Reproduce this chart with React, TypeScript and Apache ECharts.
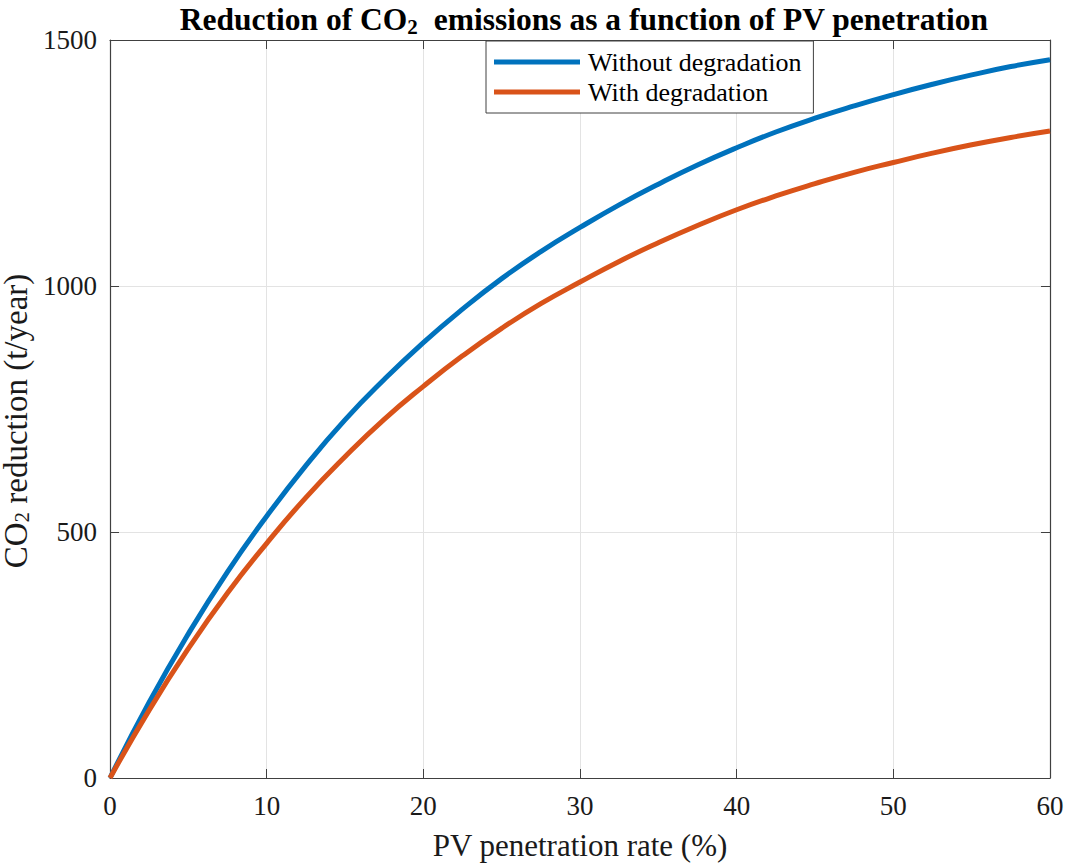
import React, { useEffect, useRef } from "react";
import * as echarts from "echarts";

const penetration = [0, 2.5, 5, 7.5, 10, 12.5, 15, 17.5, 20, 22.5, 25, 27.5, 30, 32.5, 35, 37.5, 40, 42.5, 45, 47.5, 50, 52.5, 55, 57.5, 60];
const withoutDegradation = [0, 154, 293, 419, 532, 635, 728, 810, 885, 953, 1015, 1070, 1119, 1165, 1207, 1246, 1281, 1313, 1341, 1366, 1389, 1410, 1429, 1446, 1460];
const withDegradation = [0, 138, 263, 376, 477, 570, 653, 729, 796, 858, 914, 964, 1008, 1050, 1088, 1123, 1155, 1183, 1208, 1231, 1251, 1270, 1287, 1302, 1315];
const xTicks = [0, 10, 20, 30, 40, 50, 60];
const yTicks = [0, 500, 1000, 1500];
const seriesNames = ["Without degradation", "With degradation"];
const colors = ["#0072BD", "#D95319"];

const FONT = "'Liberation Serif', 'Times New Roman', serif";
const AXIS_COLOR = "#404040";
const TEXT_COLOR = "#1a1a1a";

export default function App() {
  const ref = useRef<HTMLDivElement>(null);
  useEffect(() => {
    if (!ref.current) return;
    const chart = echarts.init(ref.current, undefined, { renderer: "svg" });
    const pairs = (ys: number[]) => penetration.map((x, i) => [x, ys[i]]);
    chart.setOption({
      animation: false,
      backgroundColor: "#ffffff",
      title: {
        text: "{b|Reduction of CO}{s|2}{b|  emissions as a function of PV penetration}",
        left: 579,
        top: -3,
        textAlign: "center",
        textStyle: {
          rich: {
            b: { fontFamily: FONT, fontSize: 31.5, fontWeight: "bold", color: "#000" },
            s: { fontFamily: FONT, fontSize: 21, fontWeight: "bold", color: "#000", padding: [14, 0, 0, 0] },
          },
        },
      },
      legend: {
        data: seriesNames,
        orient: "vertical",
        left: 486,
        top: 41,
        icon: "rect",
        itemWidth: 86,
        itemHeight: 5,
        itemGap: 0,
        padding: [6, 12, 6, 8],
        backgroundColor: "#ffffff",
        borderColor: AXIS_COLOR,
        borderWidth: 1,
        textStyle: { fontFamily: FONT, fontSize: 26, color: "#000", lineHeight: 30, padding: [0, 0, 0, 3] },
      },
      grid: { left: 110, right: 17, top: 40, bottom: 90, containLabel: false, outerBoundsMode: "none" },
      xAxis: [
        {
          type: "value",
          min: 0,
          max: 60,
          interval: 10,
          name: "PV penetration rate (%)",
          nameLocation: "middle",
          nameGap: 52,
          nameTextStyle: { fontFamily: FONT, fontSize: 31, color: TEXT_COLOR },
          axisLine: { show: true, lineStyle: { color: AXIS_COLOR, width: 1.2 } },
          axisTick: { show: true, inside: true, length: 9, lineStyle: { color: AXIS_COLOR } },
          axisLabel: {
            fontFamily: FONT,
            fontSize: 27,
            color: TEXT_COLOR,
            margin: 14,
            formatter: (v: number) => (xTicks.includes(v) ? String(v) : ""),
          },
          splitLine: { show: true, lineStyle: { color: "#e3e3e3", width: 1 } },
        },
        {
          type: "value",
          position: "top",
          min: 0,
          max: 60,
          interval: 10,
          axisLine: { show: true, onZero: false, lineStyle: { color: AXIS_COLOR, width: 1.2 } },
          axisTick: { show: true, inside: true, length: 9, lineStyle: { color: AXIS_COLOR } },
          axisLabel: { show: false },
          splitLine: { show: false },
        },
      ],
      yAxis: [
        {
          type: "value",
          min: 0,
          max: 1500,
          interval: 500,
          name: "{a|CO}{s|2}{a| reduction (t/year)}",
          nameLocation: "middle",
          nameGap: 73,
          nameRotate: 90,
          nameTextStyle: {
            padding: [0, 24, 0, 0],
            rich: {
              a: { fontFamily: FONT, fontSize: 33, lineHeight: 32, color: TEXT_COLOR },
              s: { fontFamily: FONT, fontSize: 21, lineHeight: 20, color: TEXT_COLOR, padding: [12, 0, 0, 0] },
            },
          },
          axisLine: { show: true, lineStyle: { color: AXIS_COLOR, width: 1.2 } },
          axisTick: { show: true, inside: true, length: 9, lineStyle: { color: AXIS_COLOR } },
          axisLabel: {
            fontFamily: FONT,
            fontSize: 27,
            color: TEXT_COLOR,
            margin: 13,
            formatter: (v: number) => (yTicks.includes(v) ? String(v) : ""),
          },
          splitLine: { show: true, lineStyle: { color: "#e3e3e3", width: 1 } },
        },
        {
          type: "value",
          position: "right",
          min: 0,
          max: 1500,
          interval: 500,
          axisLine: { show: true, onZero: false, lineStyle: { color: AXIS_COLOR, width: 1.2 } },
          axisTick: { show: true, inside: true, length: 9, lineStyle: { color: AXIS_COLOR } },
          axisLabel: { show: false },
          splitLine: { show: false },
        },
      ],
      series: [
        {
          name: seriesNames[0],
          type: "line",
          data: pairs(withoutDegradation),
          smooth: true,
          showSymbol: false,
          symbol: "none",
          color: colors[0],
          lineStyle: { color: colors[0], width: 5 },
          z: 3,
        },
        {
          name: seriesNames[1],
          type: "line",
          data: pairs(withDegradation),
          smooth: true,
          showSymbol: false,
          symbol: "none",
          color: colors[1],
          lineStyle: { color: colors[1], width: 5 },
          z: 4,
        },
      ],
    });
    return () => chart.dispose();
  }, []);
  return <div ref={ref} style={{ position: "absolute", left: 0, top: 0, width: 1067, height: 868 }} />;
}
